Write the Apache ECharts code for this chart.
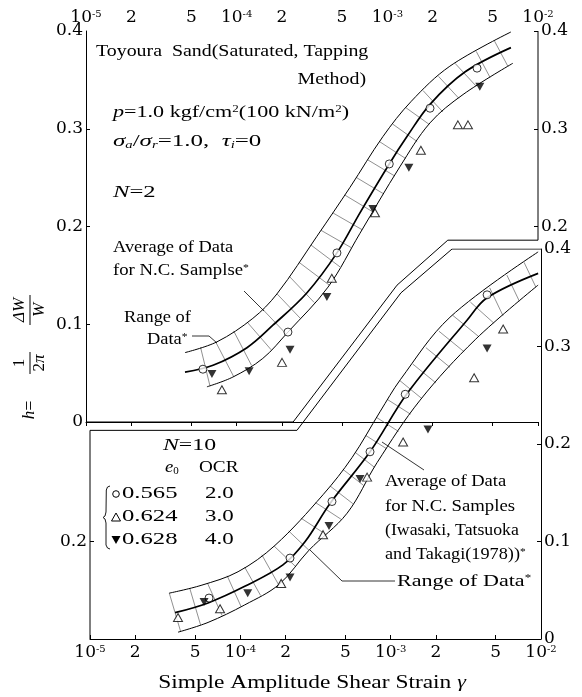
<!DOCTYPE html>
<html><head><meta charset="utf-8">
<script src="https://cdn.jsdelivr.net/npm/echarts@6/dist/echarts.min.js"></script>
<style>html,body{margin:0;padding:0;background:#fff}#c{width:582px;height:697px}</style>
</head><body><div id="c"></div>
<script>
// ---------- tick labels ----------
const xTickValues = [1e-5, 2e-5, 5e-5, 1e-4, 2e-4, 5e-4, 1e-3, 2e-3, 5e-3, 1e-2];
const xTickLabels = ['10{sup|-5}', '2', '5', '10{sup|-4}', '2', '5', '10{sup|-3}', '2', '5', '10{sup|-2}'];
const yTickValues = [0, 0.1, 0.2, 0.3, 0.4];
const yTickLabels = ['0', '0.1', '0.2', '0.3', '0.4'];
const topRightTickValues = [0.2, 0.3, 0.4];
const topRightTickLabels = ['0.2', '0.3', '0.4'];
const bottomLeftTickValues = [0.1];
const bottomLeftTickLabels = ['0.2'];

// ---------- N = 2 (upper panel) ----------
const n2AvgGamma = [4.54e-5, 6.97e-5, 1.17e-4, 1.74e-4, 2.92e-4, 4.63e-4, 6.58e-4, 1.03e-3, 1.35e-3, 1.92e-3, 3.27e-3, 6.61e-3];
const n2AvgH     = [0.051, 0.058, 0.076, 0.099, 0.132, 0.173, 0.214, 0.264, 0.292, 0.325, 0.358, 0.383];
const n2UpGamma  = [4.54e-5, 7.40e-5, 1.28e-4, 1.85e-4, 3.41e-4, 5.65e-4, 9.35e-4, 1.44e-3, 2.60e-3, 6.61e-3];
const n2UpH      = [0.071, 0.082, 0.106, 0.131, 0.190, 0.240, 0.292, 0.328, 0.364, 0.399];
const n2LoGamma  = [6.35e-5, 9.44e-5, 1.49e-4, 2.19e-4, 4.04e-4, 6.58e-4, 1.21e-3, 1.92e-3, 3.18e-3, 6.81e-3];
const n2LoH      = [0.036, 0.046, 0.065, 0.092, 0.138, 0.193, 0.261, 0.306, 0.335, 0.367];
const n2CircGamma = [5.97e-5, 2.19e-4, 4.63e-4, 1.03e-3, 1.92e-3, 3.94e-3];
const n2CircH     = [0.054, 0.092, 0.173, 0.264, 0.321, 0.362];
const n2OpenTriGamma = [7.98e-5, 2.0e-4, 4.28e-4, 8.28e-4, 1.67e-3, 2.94e-3, 3.43e-3];
const n2OpenTriH     = [0.033, 0.061, 0.147, 0.214, 0.278, 0.304, 0.304];
const n2FillTriGamma = [6.85e-5, 1.21e-4, 2.26e-4, 3.97e-4, 8.02e-4, 1.39e-3, 4.11e-3];
const n2FillTriH     = [0.049, 0.052, 0.074, 0.128, 0.218, 0.260, 0.343];
const n2FrameGamma = [1e-5, 2.37e-4, 1.16e-3, 2.52e-3, 1e-2, 1e-2];
const n2FrameH     = [0, 0, 0.140, 0.186, 0.186, 0.4];

// ---------- N = 10 (lower panel) ----------
const n10AvgGamma = [3.68e-5, 6.10e-5, 1.07e-4, 1.92e-4, 2.70e-4, 3.95e-4, 7.29e-4, 1.29e-3, 3.22e-3, 4.38e-3, 9.57e-3];
const n10AvgH     = [0.027, 0.037, 0.054, 0.076, 0.100, 0.139, 0.192, 0.252, 0.327, 0.350, 0.375];
const n10UpGamma  = [3.36e-5, 5.48e-5, 9.66e-5, 1.70e-4, 3.55e-4, 5.53e-4, 8.49e-4, 1.16e-3, 2.48e-3, 9.57e-3];
const n10UpH      = [0.047, 0.055, 0.069, 0.096, 0.148, 0.186, 0.233, 0.266, 0.330, 0.397];
const n10LoGamma  = [3.85e-5, 6.10e-5, 1.07e-4, 1.81e-4, 2.86e-4, 5.13e-4, 8.13e-4, 1.57e-3, 3.65e-3, 9.57e-3];
const n10LoH      = [0.007, 0.017, 0.035, 0.056, 0.091, 0.129, 0.181, 0.245, 0.307, 0.363];
const n10CircGamma = [6.19e-5, 2.14e-4, 4.07e-4, 7.29e-4, 1.25e-3, 4.38e-3];
const n10CircH     = [0.042, 0.083, 0.141, 0.192, 0.251, 0.353];
const n10OpenTriGamma = [3.85e-5, 7.33e-5, 1.87e-4, 3.55e-4, 6.97e-4, 1.21e-3, 3.59e-3, 5.60e-3];
const n10OpenTriH     = [0.022, 0.031, 0.057, 0.107, 0.166, 0.202, 0.268, 0.318];
const n10FillTriGamma = [5.74e-5, 1.12e-4, 2.14e-4, 3.89e-4, 6.25e-4, 1.77e-3, 4.38e-3];
const n10FillTriH     = [0.038, 0.047, 0.063, 0.116, 0.164, 0.215, 0.298];
const n10FrameGamma = [1e-5, 1e-5, 2.38e-4, 1.17e-3, 2.56e-3, 1e-2];
const n10FrameH     = [0, 0.214, 0.214, 0.355, 0.4, 0.4];

// ---------- helpers ----------
const SERIF = "'Liberation Serif', 'Times New Roman', serif";
const TICKFONT = "'DejaVu Serif', serif";
const lg = v => Math.log10(v);
const pts = (g, h) => g.map((v, i) => [lg(v), h[i]]);
const xTickPos = xTickValues.map(lg);
const tickRich = {
  n: { fontFamily: TICKFONT, fontSize: 17, color: '#000' },
  sup: { fontFamily: TICKFONT, fontSize: 10, verticalAlign: 'top', color: '#000' }
};
function xLabelFmt(v) {
  const k = xTickPos.findIndex(p => Math.abs(p - v) < 1e-6);
  if (k < 0) return '';
  const s = xTickLabels[k];
  return s.indexOf('{') >= 0 ? s.replace(/^([^{]+)/, '{n|$1}') : '{n|' + s + '}';
}
function yLabelFmt(vals, labs) {
  return v => { const k = vals.findIndex(p => Math.abs(p - v) < 1e-6); return k >= 0 ? '{n|' + labs[k] + '}' : ''; };
}
function hit(p, n, poly) {
  let best = null, bestT = Infinity;
  for (let j = 0; j < poly.length - 1; j++) {
    const a = poly[j], b = poly[j + 1];
    const ex = b[0] - a[0], ey = b[1] - a[1];
    const det = -n[0] * ey + ex * n[1];
    if (Math.abs(det) < 1e-9) continue;
    const rx = a[0] - p[0], ry = a[1] - p[1];
    const t = (-rx * ey + ex * ry) / det;
    const u = (n[0] * ry - n[1] * rx) / det;
    if (u >= -0.02 && u <= 1.02 && Math.abs(t) < bestT && Math.abs(t) < 70) {
      best = [p[0] + t * n[0], p[1] + t * n[1]]; bestT = Math.abs(t);
    }
  }
  return best;
}
function hatchSeries(xi, yi, upG, upH, cG, cH, loG, loH, step) {
  return {
    type: 'custom', xAxisIndex: xi, yAxisIndex: yi, silent: true, z: 1, clip: false,
    data: [[0, 0]],
    renderItem: function (params, api) {
      const px = (g, h) => g.map((v, i) => api.coord([lg(v), h[i]]));
      const U = px(upG, upH), C = px(cG, cH), L = px(loG, loH);
      const children = [];
      let carry = 0;
      for (let i = 0; i < C.length - 1; i++) {
        const a = C[i], b = C[i + 1];
        const dx = b[0] - a[0], dy = b[1] - a[1], len = Math.hypot(dx, dy);
        const tx = dx / len, ty = dy / len, n = [-ty, tx];
        let s = carry;
        while (s <= len) {
          const p = [a[0] + tx * s, a[1] + ty * s];
          const pu = hit(p, n, U), pl = hit(p, n, L);
          if (pu && pl) children.push({ type: 'line', shape: { x1: pu[0], y1: pu[1], x2: pl[0], y2: pl[1] }, style: { stroke: '#444', lineWidth: 0.6 } });
          s += step;
        }
        carry = s - len;
      }
      return { type: 'group', children };
    }
  };
}
function lineS(xi, yi, g, h, w, smooth) {
  return { type: 'line', xAxisIndex: xi, yAxisIndex: yi, data: pts(g, h), symbol: 'none', smooth: smooth,
    lineStyle: { color: '#000', width: w }, silent: true, z: 2 };
}
function scatterS(xi, yi, g, h, kind) {
  const base = { type: 'scatter', xAxisIndex: xi, yAxisIndex: yi, data: pts(g, h), silent: true, z: 5 };
  if (kind === 'circle') return Object.assign(base, { symbol: 'circle', symbolSize: 8, itemStyle: { color: '#fff', borderColor: '#000', borderWidth: 1 } });
  if (kind === 'open') return Object.assign(base, { symbol: 'triangle', symbolSize: [9, 8], itemStyle: { color: '#fff', borderColor: '#000', borderWidth: 1 } });
  return Object.assign(base, { symbol: 'triangle', symbolRotate: 180, symbolSize: [9, 8], itemStyle: { color: '#000' } });
}
function xAx(grid, pos) {
  return { type: 'value', gridIndex: grid, position: pos, min: -5, max: -2,
    axisLine: { show: true, lineStyle: { color: '#000', width: 1 } },
    axisTick: { show: true, inside: true, length: 4, customValues: xTickPos, lineStyle: { color: '#000' } },
    axisLabel: { customValues: xTickPos, formatter: xLabelFmt, margin: 5, rich: tickRich, fontFamily: TICKFONT, fontSize: 17, color: '#000' },
    splitLine: { show: false } };
}
function yAx(grid, pos, lineShow, tickVals, labVals, labTexts) {
  return { type: 'value', gridIndex: grid, position: pos, min: 0, max: 0.4,
    axisLine: { show: lineShow, lineStyle: { color: '#000', width: 1 } },
    axisTick: { show: true, inside: true, length: 4, customValues: tickVals, lineStyle: { color: '#000' } },
    axisLabel: { customValues: labVals, formatter: yLabelFmt(labVals, labTexts), margin: 3, rich: tickRich, fontFamily: TICKFONT, fontSize: 17, color: '#000' },
    splitLine: { show: false } };
}

// ---------- annotation text ----------
const rich = {
  i: { fontFamily: SERIF, fontStyle: 'italic', fontSize: 17, color: '#000' },
  sup: { fontFamily: SERIF, fontSize: 10, verticalAlign: 'top', color: '#000' },
  sub: { fontFamily: SERIF, fontSize: 10, verticalAlign: 'bottom', color: '#000' },
  isub: { fontFamily: SERIF, fontStyle: 'italic', fontSize: 10, verticalAlign: 'bottom', color: '#000' }
};
function T(x, y, text, size, sx, align) {
  return { type: 'text', x: x, y: y, scaleX: sx || 1.15, silent: true, z: 10,
    style: { text: text, fontFamily: SERIF, fontSize: size, fill: '#000', align: align || 'left', verticalAlign: 'middle', rich: rich } };
}
function Lpath(points) {
  return { type: 'polyline', silent: true, z: 10, shape: { points: points }, style: { stroke: '#000', lineWidth: 0.8, fill: null } };
}
const graphics = [
  T(96, 52, 'Toyoura  Sand(Saturated, Tapping', 17, 1.17),
  T(366, 80, 'Method)', 17, 1.17, 'right'),
  T(113, 113, '{i|p}=1.0 kgf/cm{sup|2}(100 kN/m{sup|2})', 17, 1.3),
  T(113, 142, '{i|σ}{isub|a}/{i|σ}{isub|r}=1.0,  {i|τ}{isub|i}=0', 17, 1.47),
  T(113, 193, '{i|N}=2', 17, 1.45),
  T(113, 248, 'Average of Data', 16, 1.15),
  T(113, 271, 'for N.C. Samplse{sup|*}', 16, 1.17),
  T(124, 318, 'Range of', 16, 1.15),
  T(147, 340, 'Data{sup|*}', 16, 1.15),
  T(163, 446, '{i|N}=10', 17, 1.4),
  T(165, 468, '{i|e}{sub|0}', 16, 1.1),
  T(199, 468, 'OCR', 16, 1.2),
  T(122, 494, '0.565', 17, 1.45), T(205, 494, '2.0', 17, 1.35),
  T(122, 517, '0.624', 17, 1.45), T(205, 517, '3.0', 17, 1.35),
  T(122, 540, '0.628', 17, 1.45), T(205, 540, '4.0', 17, 1.35),
  T(385, 482, 'Average of Data', 16, 1.16),
  T(385, 507, 'for N.C. Samples', 16, 1.17),
  T(385, 531, '(Iwasaki, Tatsuoka', 16, 1.11),
  T(385, 555, 'and Takagi(1978)){sup|*}', 16, 1.14),
  T(397, 582, 'Range of Data{sup|*}', 17, 1.3),
  T(312, 683, 'Simple Amplitude Shear Strain {i|γ}', 18, 1.3, 'center'),
  // legend glyphs
  { type: 'circle', silent: true, z: 10, shape: { cx: 116, cy: 494, r: 3.3 }, style: { fill: '#fff', stroke: '#000', lineWidth: 1 } },
  { type: 'polygon', silent: true, z: 10, shape: { points: [[116, 513], [120.5, 521], [111.5, 521]] }, style: { fill: '#fff', stroke: '#000', lineWidth: 1 } },
  { type: 'polygon', silent: true, z: 10, shape: { points: [[111.5, 536], [120.5, 536], [116, 544]] }, style: { fill: '#000' } },
  { type: 'polyline', silent: true, z: 10, shape: { points: [[110, 486], [107.5, 487], [106.3, 490], [106, 512], [105, 516], [103, 517.5], [105, 519], [106, 523], [106, 545], [107.5, 548], [110, 549]] }, style: { stroke: '#000', lineWidth: 0.9, fill: null } },
  // leaders
  Lpath([[244, 291], [264, 311]]),
  Lpath([[192, 336], [209, 336], [217, 343]]),
  Lpath([[382, 442], [424, 470]]),
  Lpath([[310, 550], [342, 581], [395, 581]]),
  // y-axis title (rotated)
  { type: 'group', x: 30, y: 355, rotation: Math.PI / 2, silent: true, z: 10, children: [
    { type: 'text', x: -55, y: 0, style: { text: '{i|h}=', rich: rich, fontFamily: SERIF, fontSize: 18, fill: '#000', align: 'center', verticalAlign: 'middle' } },
    { type: 'text', x: -8, y: -10, style: { text: '1', fontFamily: SERIF, fontSize: 17, fill: '#000', align: 'center', verticalAlign: 'middle' } },
    { type: 'line', shape: { x1: -19, y1: 0, x2: 3, y2: 0 }, style: { stroke: '#000', lineWidth: 1 } },
    { type: 'text', x: -8, y: 10, style: { text: '2{i|π}', rich: rich, fontFamily: SERIF, fontSize: 17, fill: '#000', align: 'center', verticalAlign: 'middle' } },
    { type: 'text', x: 45, y: -10, style: { text: '{i|ΔW}', rich: rich, fontFamily: SERIF, fontSize: 17, fill: '#000', align: 'center', verticalAlign: 'middle' } },
    { type: 'line', shape: { x1: 30, y1: 0, x2: 60, y2: 0 }, style: { stroke: '#000', lineWidth: 1 } },
    { type: 'text', x: 45, y: 10, style: { text: '{i|W}', rich: rich, fontFamily: SERIF, fontSize: 17, fill: '#000', align: 'center', verticalAlign: 'middle' } }
  ] }
];

const chart = echarts.init(document.getElementById('c'), null, { renderer: 'canvas' });
chart.setOption({
  animation: false,
  backgroundColor: '#fff',
  textStyle: { fontFamily: SERIF, color: '#000' },
  grid: [
    { left: 86, top: 31, width: 452, height: 391 },
    { left: 90, top: 249, width: 451, height: 390 }
  ],
  xAxis: [xAx(0, 'top'), xAx(1, 'bottom')],
  yAxis: [
    yAx(0, 'left', true, [0.1, 0.2, 0.3], yTickValues, yTickLabels),
    yAx(0, 'right', false, topRightTickValues, topRightTickValues, topRightTickLabels),
    yAx(1, 'left', false, bottomLeftTickValues, bottomLeftTickValues, bottomLeftTickLabels),
    yAx(1, 'right', true, [0.1, 0.2, 0.3], yTickValues, yTickLabels)
  ],
  series: [
    lineS(0, 0, n2FrameGamma, n2FrameH, 1, false),
    lineS(1, 2, n10FrameGamma, n10FrameH, 1, false),
    hatchSeries(0, 0, n2UpGamma, n2UpH, n2AvgGamma, n2AvgH, n2LoGamma, n2LoH, 21),
    hatchSeries(1, 2, n10UpGamma, n10UpH, n10AvgGamma, n10AvgH, n10LoGamma, n10LoH, 21),
    lineS(0, 0, n2AvgGamma, n2AvgH, 1.7, 0.35),
    lineS(0, 0, n2UpGamma, n2UpH, 1, 0.35),
    lineS(0, 0, n2LoGamma, n2LoH, 1, 0.35),
    lineS(1, 2, n10AvgGamma, n10AvgH, 1.7, 0.35),
    lineS(1, 2, n10UpGamma, n10UpH, 1, 0.35),
    lineS(1, 2, n10LoGamma, n10LoH, 1, 0.35),
    scatterS(0, 0, n2CircGamma, n2CircH, 'circle'),
    scatterS(0, 0, n2OpenTriGamma, n2OpenTriH, 'open'),
    scatterS(0, 0, n2FillTriGamma, n2FillTriH, 'fill'),
    scatterS(1, 2, n10CircGamma, n10CircH, 'circle'),
    scatterS(1, 2, n10OpenTriGamma, n10OpenTriH, 'open'),
    scatterS(1, 2, n10FillTriGamma, n10FillTriH, 'fill')
  ],
  graphic: graphics
});
</script>
</body></html>
